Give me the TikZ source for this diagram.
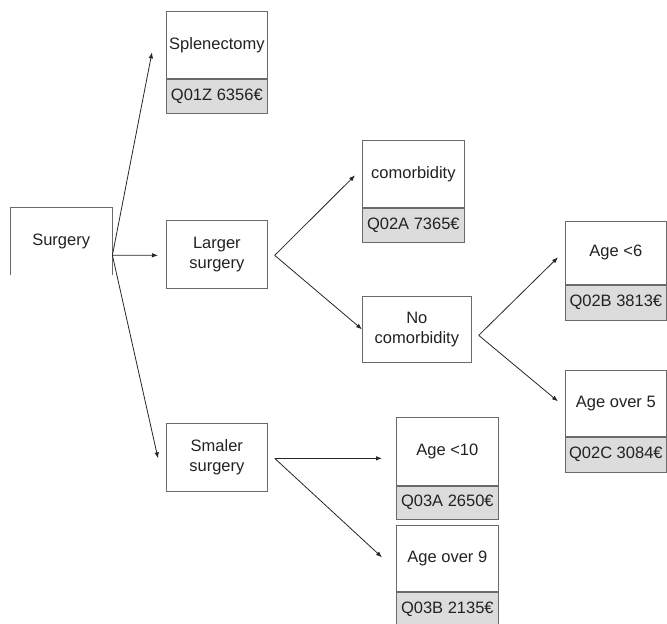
\documentclass[tikz,border=0pt]{standalone}
\usepackage{fontspec}
\setmainfont{Liberation Sans}
\usetikzlibrary{arrows.meta,calc}
\definecolor{boxline}{HTML}{6A6A6A}
\definecolor{codefill}{HTML}{DCDCDC}
\definecolor{txt}{HTML}{222222}
\tikzset{
  x=1pt,y=-1pt,
  every node/.style={font=\fontsize{16.5}{20.5}\selectfont, text=txt, inner sep=0pt, align=center},
  plainbox/.style={draw=boxline, line width=0.7pt, fill=white},
  codebox/.style={draw=boxline, line width=0.7pt, fill=codefill},
  conn/.style={draw=black!85, line width=0.8pt, -{Latex[length=6pt,width=4.5pt]}},
}
\begin{document}
\begin{tikzpicture}
\useasboundingbox (0,0) rectangle (667,624);
% Surgery (open at the bottom)
\node[minimum width=102pt, minimum height=68pt, anchor=north west] (surgery) at (10,207) {Surgery};
\draw[boxline, line width=0.7pt] (surgery.south west) -- (surgery.north west) -- (surgery.north east) -- (surgery.south east);
% second level
\node[plainbox, minimum width=101pt, minimum height=67pt, anchor=north west] (spl) at (166,11) {Splenectomy};
\node[codebox, minimum width=101pt, minimum height=34pt, anchor=north] (splc) at (spl.south) {Q01Z 6356€};
\node[plainbox, minimum width=101pt, minimum height=68pt, anchor=north west] (larger) at (166,220) {Larger\\surgery};
\node[plainbox, minimum width=101pt, minimum height=68pt, anchor=north west] (smaler) at (166,423) {Smaler\\surgery};
% third level
\node[plainbox, minimum width=102pt, minimum height=67pt, anchor=north west] (como) at (362,140) {comorbidity};
\node[codebox, minimum width=102pt, minimum height=34pt, anchor=north] (comoc) at (como.south) {Q02A 7365€};
\node[plainbox, minimum width=109pt, minimum height=66pt, anchor=north west] (nocomo) at (362,296) {No\\comorbidity};
\node[plainbox, minimum width=102pt, minimum height=68pt, anchor=north west] (age10) at (396,417) {Age <10};
\node[codebox, minimum width=102pt, minimum height=33pt, anchor=north] (age10c) at (age10.south) {Q03A 2650€};
\node[plainbox, minimum width=102pt, minimum height=66pt, anchor=north west] (age9) at (396,525) {Age over 9};
\node[codebox, minimum width=102pt, minimum height=34pt, anchor=north] (age9c) at (age9.south) {Q03B 2135€};
% fourth level
\node[plainbox, minimum width=101pt, minimum height=63pt, anchor=north west] (age6) at (565,221) {Age <6};
\node[codebox, minimum width=101pt, minimum height=35pt, anchor=north] (age6c) at (age6.south) {Q02B 3813€};
\node[plainbox, minimum width=101pt, minimum height=66pt, anchor=north west] (age5) at (565,370) {Age over 5};
\node[codebox, minimum width=101pt, minimum height=35pt, anchor=north] (age5c) at (age5.south) {Q02C 3084€};
% fork points
\coordinate (f1) at ($(surgery.east)+(0,14)$);
\coordinate (f2) at ($(larger.east)+(7,1)$);
\coordinate (f3) at ($(smaler.east)+(7,1)$);
\coordinate (f4) at ($(nocomo.east)+(7,6)$);
% arrow ends
\coordinate (t1) at ($(spl.west)+(-14,7.5)$);
\coordinate (t2) at ($(larger.west)+(-8,1)$);
\coordinate (t3) at ($(smaler.west)+(-8,1)$);
\coordinate (t4) at ($(como.west)+(-7,1.5)$);
\coordinate (t5) at (nocomo.west);
\coordinate (t6) at ($(age6.west)+(-7,4.5)$);
\coordinate (t7) at ($(age5.west)+(-7,-2)$);
\coordinate (t8) at ($(age10.west)+(-14,7)$);
\coordinate (t9) at ($(age9.west)+(-14,-1)$);
% connectors
\draw[conn] (f1) -- (t1);
\draw[conn] (f1) -- (t2);
\draw[conn] (f1) -- (t3);
\draw[conn] (f2) -- (t4);
\draw[conn] (f2) -- (t5);
\draw[conn] (f4) -- (t6);
\draw[conn] (f4) -- (t7);
\draw[conn] (f3) -- (t8);
\draw[conn] (f3) -- (t9);
\end{tikzpicture}
\end{document}
